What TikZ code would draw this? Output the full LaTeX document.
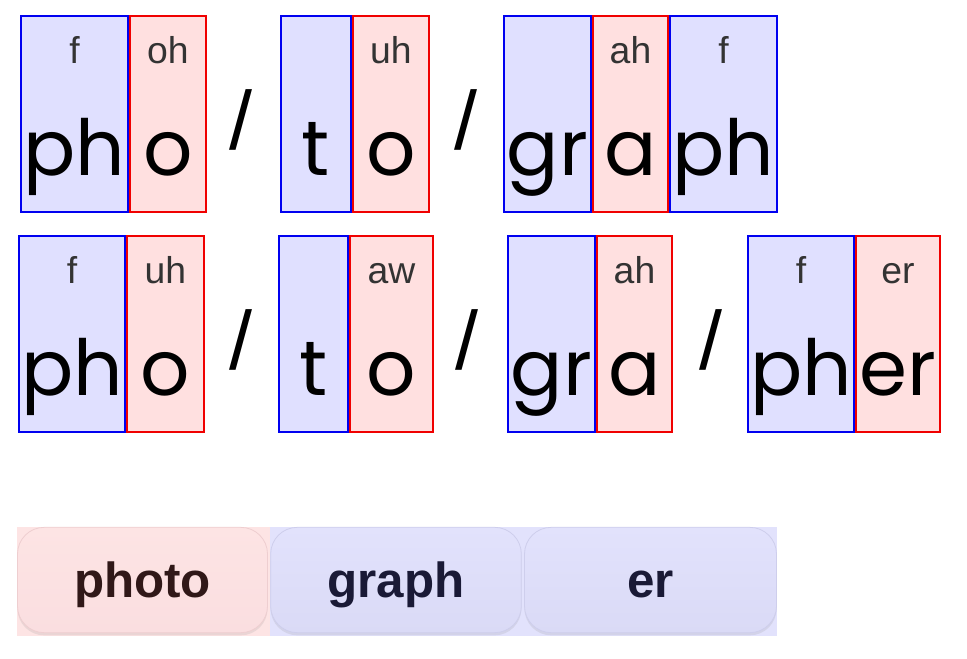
\documentclass[tikz,border=0pt]{standalone}
\usepackage{fontspec}
\setmainfont{Liberation Sans}
\newfontfamily\letterfont{Poppins}
\usetikzlibrary{fit,shadows}

\definecolor{consfill}{RGB}{224,224,255}
\definecolor{consline}{RGB}{0,0,240}
\definecolor{vowfill}{RGB}{255,224,224}
\definecolor{vowline}{RGB}{240,0,0}
\definecolor{soundtext}{RGB}{51,51,51}
\definecolor{bgpink}{RGB}{253,228,228}
\definecolor{bglav}{RGB}{226,226,252}
\definecolor{btnpinktop}{RGB}{253,228,228}
\definecolor{btnpinkbot}{RGB}{250,222,224}
\definecolor{btnpinkedge}{RGB}{238,206,208}
\definecolor{btnlavtop}{RGB}{226,226,252}
\definecolor{btnlavbot}{RGB}{218,218,246}
\definecolor{btnlavedge}{RGB}{206,206,236}
\definecolor{phototext}{RGB}{48,24,24}
\definecolor{graphtext}{RGB}{26,26,54}

\begin{document}
\begin{tikzpicture}[x=.75pt, y=-.75pt,
	cons/.style={draw=consline, fill=consfill, line width=1.5pt, inner sep=0pt},
	vow/.style={draw=vowline, fill=vowfill, line width=1.5pt, inner sep=0pt},
	letters/.style={anchor=base, inner sep=0pt, font=\letterfont\fontsize{58}{58}\selectfont},
	sound/.style={anchor=base, inner sep=0pt, text=soundtext, font=\fontsize{28}{28}\selectfont},
	slash/.style={inner sep=0pt, font=\fontsize{62}{62}\selectfont},
	btn/.style={rounded corners=20pt, inner sep=0pt, minimum height=79pt, text height=26pt, text depth=0pt,
		line width=.6pt, font=\bfseries\fontsize{37}{37}\selectfont,
		drop shadow={shadow xshift=0pt, shadow yshift=-2pt, opacity=.15}}]
			\useasboundingbox (0,0) rectangle (967,659);

			% photograph
			\node[cons, fit={(21,16) (128,212)}] (aph) {};
			\node[vow, fit={(130,16) (206,212)}] (ao) {};
			\node[cons, fit={(281,16) (351,212)}] (at) {};
			\node[vow, fit={(353,16) (429,212)}] (aoo) {};
			\node[cons, fit={(504,16) (591,212)}] (agr) {};
			\node[vow, fit={(593,16) (668,212)}] (aa) {};
			\node[cons, fit={(670,16) (777,212)}] (aphh) {};

			\node[letters] (aphL) at ([yshift=28pt]aph.south) {ph};
			\node[letters] (aoL) at ([yshift=28pt]ao.south) {o};
			\node[letters] (atL) at ([yshift=28pt]at.south) {t};
			\node[letters] (aooL) at ([yshift=28pt]aoo.south) {o};
			\node[letters] (agrL) at ([yshift=28pt]agr.south) {gr};
			\node[letters] (aaL) at ([yshift=28pt]aa.south) {a};
			\node[letters] (aphhL) at ([yshift=28pt]aphh.south) {ph};

			\node[sound] (aphS) at ([yshift=-36.5pt]aph.north) {f};
			\node[sound] (aoS) at ([yshift=-36.5pt]ao.north) {oh};
			\node[sound] (aooS) at ([yshift=-36.5pt]aoo.north) {uh};
			\node[sound] (aaS) at ([yshift=-36.5pt]aa.north) {ah};
			\node[sound] (aphhS) at ([yshift=-36.5pt]aphh.north) {f};

			\node[slash] (asl1) at (241,120) {/};
			\node[slash] (asl2) at (466,120) {/};

			% photographer
			\node[cons, fit={(19,236) (125,432)}] (bph) {};
			\node[vow, fit={(127,236) (204,432)}] (bo) {};
			\node[cons, fit={(279,236) (348,432)}] (bt) {};
			\node[vow, fit={(350,236) (433,432)}] (boo) {};
			\node[cons, fit={(508,236) (595,432)}] (bgr) {};
			\node[vow, fit={(597,236) (672,432)}] (ba) {};
			\node[cons, fit={(748,236) (854,432)}] (bphh) {};
			\node[vow, fit={(856,236) (940,432)}] (ber) {};

			\node[letters] (bphL) at ([yshift=28pt]bph.south) {ph};
			\node[letters] (boL) at ([yshift=28pt]bo.south) {o};
			\node[letters] (btL) at ([yshift=28pt]bt.south) {t};
			\node[letters] (booL) at ([yshift=28pt]boo.south) {o};
			\node[letters] (bgrL) at ([yshift=28pt]bgr.south) {gr};
			\node[letters] (baL) at ([yshift=28pt]ba.south) {a};
			\node[letters] (bphhL) at ([yshift=28pt]bphh.south) {ph};
			\node[letters] (berL) at ([yshift=28pt]ber.south) {er};

			\node[sound] (bphS) at ([yshift=-36.5pt]bph.north) {f};
			\node[sound] (boS) at ([yshift=-36.5pt]bo.north) {uh};
			\node[sound] (booS) at ([yshift=-36.5pt]boo.north) {aw};
			\node[sound] (baS) at ([yshift=-36.5pt]ba.north) {ah};
			\node[sound] (bphhS) at ([yshift=-36.5pt]bphh.north) {f};
			\node[sound] (berS) at ([yshift=-36.5pt]ber.north) {er};

			\node[slash] (bsl1) at (241,340) {/};
			\node[slash] (bsl2) at (467,340) {/};
			\node[slash] (bsl3) at (711,340) {/};

			% morphemes
			\fill[bgpink] (17,527) rectangle (270,636);
			\fill[bglav] (270,527) rectangle (777,636);
			\node[btn, draw=btnpinkedge, top color=btnpinktop, bottom color=btnpinkbot, text=phototext, minimum width=187.5pt] (photo) at (142.5,580) {photo};
			\node[btn, draw=btnlavedge, top color=btnlavtop, bottom color=btnlavbot, text=graphtext, minimum width=188pt] (graph) at (396,580) {graph};
			\node[btn, draw=btnlavedge, top color=btnlavtop, bottom color=btnlavbot, text=graphtext, minimum width=189pt] (er) at (650.5,580) {er};

		\end{tikzpicture}
\end{document}
